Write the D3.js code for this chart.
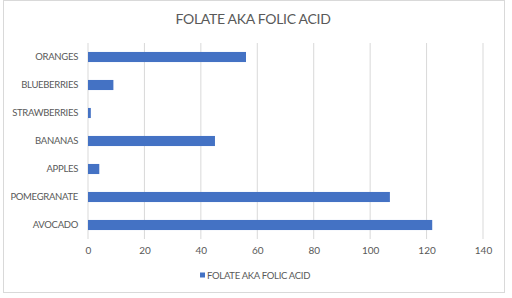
<!DOCTYPE html>
<html>
<head>
<meta charset="utf-8">
<script src="https://cdn.jsdelivr.net/npm/d3@7"></script>
<style>
  body { margin: 0; background: #fff; }
  text { font-family: Lato, "Open Sans", sans-serif; fill: #595959; }
</style>
</head>
<body>
<svg id="chart" width="512" height="298"></svg>
<script>
// chart values
var fruits = ["ORANGES", "BLUEBERRIES", "STRAWBERRIES", "BANANAS", "APPLES", "POMEGRANATE", "AVOCADO"];
var folate = [56, 9, 1, 45, 4, 107, 122];
var xTicks = [0, 20, 40, 60, 80, 100, 120, 140];
var seriesName = "FOLATE AKA FOLIC ACID";

var svg = d3.select("#chart");
var plotLeft = 88, plotRight = 483, plotTop = 43, plotBottom = 239;

// outer border
svg.append("rect")
	.attr("x", 3.5).attr("y", 0.5)
	.attr("width", 501).attr("height", 292)
	.attr("fill", "#fff")
	.attr("stroke", "#d9d9d9");

var x = d3.scaleLinear().domain([0, 140]).range([plotLeft, plotRight]);
var y = d3.scaleBand().domain(fruits).range([plotTop, plotBottom]).paddingInner(0.64).paddingOuter(0.32);

// gridlines
svg.append("g").selectAll("line")
	.data(xTicks)
	.enter()
	.append("line")
	.attr("x1", function(d) { return x(d); })
	.attr("x2", function(d) { return x(d); })
	.attr("y1", plotTop)
	.attr("y2", plotBottom)
	.attr("stroke", "#d9d9d9")
	.attr("stroke-width", 1);

// bars
svg.append("g").selectAll("rect")
	.data(fruits)
	.enter()
	.append("rect")
	.attr("x", x(0))
	.attr("y", function(d) { return y(d); })
	.attr("width", function(d, i) { return x(folate[i]) - x(0); })
	.attr("height", y.bandwidth())
	.attr("fill", "#4472c4");

// x axis labels
var xAxis = d3.axisBottom(x).tickValues(xTicks).tickSize(0).tickPadding(8);
var gx = svg.append("g").attr("transform", "translate(0," + plotBottom + ")").call(xAxis);
gx.select(".domain").remove();
gx.selectAll("text").style("font-size", "10px").attr("fill", "#595959").style("font-family", "Lato, sans-serif");

// y axis labels
var yAxis = d3.axisLeft(y).tickSize(0).tickPadding(10);
var gy = svg.append("g").attr("transform", "translate(" + plotLeft + ",0)").call(yAxis);
gy.select(".domain").remove();
gy.selectAll("text")
	.style("font-size", "9.5px")
	.style("letter-spacing", "-0.3px")
	.attr("fill", "#595959")
	.style("font-family", "Lato, sans-serif");

// title
svg.append("text")
	.attr("x", 253)
	.attr("y", 24)
	.attr("text-anchor", "middle")
	.style("font-size", "14px")
	.style("letter-spacing", "-0.3px")
	.text(seriesName);

// legend
var legend = svg.append("g").attr("transform", "translate(200,276)");
legend.append("rect")
	.attr("x", 0).attr("y", -3.5)
	.attr("width", 5).attr("height", 5)
	.attr("fill", "#4472c4");
legend.append("text")
	.attr("x", 7)
	.attr("y", 0)
	.attr("dy", "0.35em")
	.style("font-size", "9.5px")
	.style("letter-spacing", "-0.3px")
	.text(seriesName);
</script>
</body>
</html>
